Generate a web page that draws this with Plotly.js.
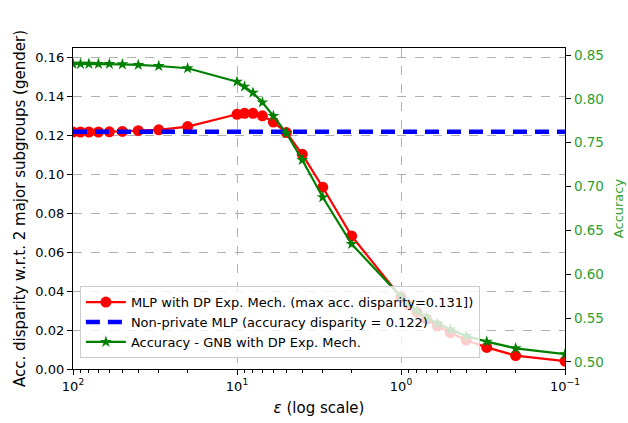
<!DOCTYPE html>
<html>
<head>
<meta charset="utf-8">
<script src="https://cdn.plot.ly/plotly-3.0.1.min.js"></script>
<style>html,body{margin:0;padding:0;background:#fff;}#chart{width:628px;height:423px;}</style>
</head>
<body>
<div id="chart"></div>
<script>
// Privacy budget epsilon values (x)
const epsilon = [100, 90, 80, 70, 60, 50, 40, 30, 20, 10, 9, 8, 7, 6, 5, 4, 3, 2, 1, 0.9, 0.8, 0.7, 0.6, 0.5, 0.4, 0.3, 0.2, 0.1];
// MLP with DP Exp. Mech. accuracy disparity (left axis)
const mlpDisparity = [0.1219, 0.1219, 0.1219, 0.1219, 0.1220, 0.1222, 0.1226, 0.1230, 0.1247, 0.1310, 0.1315, 0.1315, 0.1302, 0.1270, 0.1216, 0.1104, 0.0935, 0.0684, 0.0368, 0.0330, 0.0292, 0.0257, 0.0222, 0.0187, 0.0149, 0.0111, 0.0069, 0.0040];
// Non-private MLP disparity (constant)
const nonPrivateX = [100, 0.1];
const nonPrivateY = [0.122, 0.122];
// Accuracy - GNB with DP Exp. Mech. (right axis)
const gnbAccuracy = [0.8400, 0.8400, 0.8400, 0.8399, 0.8398, 0.8394, 0.8387, 0.8375, 0.8349, 0.8196, 0.8140, 0.8070, 0.7960, 0.7805, 0.7608, 0.7303, 0.6878, 0.6345, 0.5745, 0.5660, 0.5580, 0.5510, 0.5440, 0.5370, 0.5296, 0.5232, 0.5156, 0.5090];

const xTickVals = [100, 10, 1, 0.1];
const xTickText = ['10<sup>2</sup>', '10<sup>1</sup>', '10<sup>0</sup>', '10<sup>−1</sup>'];
const leftTicks = [0, 0.02, 0.04, 0.06, 0.08, 0.10, 0.12, 0.14, 0.16];
const rightTicks = [0.50, 0.55, 0.60, 0.65, 0.70, 0.75, 0.80, 0.85];

const minorVals = [];
[0.1, 1, 10].forEach(d => { for (let k = 2; k <= 9; k++) minorVals.push(+(d * k).toPrecision(3)); });

const font = 'DejaVu Sans, sans-serif';

const traces = [
  {
    x: epsilon, y: mlpDisparity, type: 'scatter', mode: 'lines+markers',
    name: 'MLP with DP Exp. Mech. (max acc. disparity=0.131])',
    line: {color: '#ff0000', width: 2.2},
    marker: {color: '#ff0000', size: 11, symbol: 'circle'},
    yaxis: 'y'
  },
  {
    x: nonPrivateX, y: nonPrivateY, type: 'scatter', mode: 'lines',
    name: 'Non-private MLP (accuracy disparity = 0.122)',
    line: {color: '#0000ff', width: 4.5, dash: '14px,8px'},
    yaxis: 'y'
  },
  {
    x: epsilon, y: gnbAccuracy, type: 'scatter', mode: 'lines+markers',
    name: 'Accuracy - GNB with DP Exp. Mech.',
    line: {color: '#008000', width: 2.2},
    marker: {color: '#008000', size: 9, symbol: 'star'},
    yaxis: 'y2'
  }
];

const layout = {
  width: 628, height: 423,
  margin: {l: 73, r: 63, t: 48, b: 54},
  paper_bgcolor: '#fff', plot_bgcolor: '#fff',
  font: {family: font, size: 13, color: '#000'},
  showlegend: true,
  legend: {
    x: 0.014, y: 0.034, xanchor: 'left', yanchor: 'bottom',
    bgcolor: 'rgba(255,255,255,0.8)', bordercolor: '#cccccc', borderwidth: 1,
    font: {family: font, size: 13, color: '#000'},
    tracegroupgap: 0, itemwidth: 40
  },
  xaxis: {
    type: 'log', range: [2, -1], autorange: false,
    tickvals: xTickVals, ticktext: xTickText,
    ticks: 'outside', ticklen: 5, tickcolor: '#000', tickwidth: 1,
    showline: true, linecolor: '#000', linewidth: 1.2, mirror: true,
    showgrid: true, gridcolor: '#b0b0b0', griddash: 'dash', gridwidth: 1,
    zeroline: false,
    tickfont: {family: font, size: 13, color: '#000'},
    minor: {tickvals: minorVals, ticks: 'outside', ticklen: 3, tickcolor: '#000', showgrid: false},
    title: {text: '<i>ε</i> (log scale)', font: {family: font, size: 15, color: '#000'}, standoff: 9}
  },
  yaxis: {
    range: [0, 0.1651], autorange: false,
    tickvals: leftTicks, tickformat: '.2f',
    ticks: 'outside', ticklen: 5, tickcolor: '#000',
    showline: true, linecolor: '#000', linewidth: 1.2,
    showgrid: true, gridcolor: '#b0b0b0', griddash: 'dash', gridwidth: 1,
    zeroline: false,
    tickfont: {family: font, size: 13, color: '#000'},
    title: {text: 'Acc. disparity w.r.t. 2 major subgroups (gender)', font: {family: font, size: 15, color: '#000'}, standoff: 6}
  },
  yaxis2: {
    overlaying: 'y', side: 'right', anchor: 'x',
    range: [0.492, 0.858], autorange: false,
    tickvals: rightTicks, tickformat: '.2f',
    ticks: 'outside', ticklen: 5, tickcolor: '#000',
    showline: true, linecolor: '#000', linewidth: 1.2,
    showgrid: false, zeroline: false,
    tickfont: {family: font, size: 13.5, color: '#2ca02c'},
    title: {text: 'Accuracy', font: {family: font, size: 13, color: '#2ca02c'}, standoff: 11}
  }
};

Plotly.newPlot('chart', traces, layout, {displayModeBar: false, staticPlot: true});
</script>
</body>
</html>
